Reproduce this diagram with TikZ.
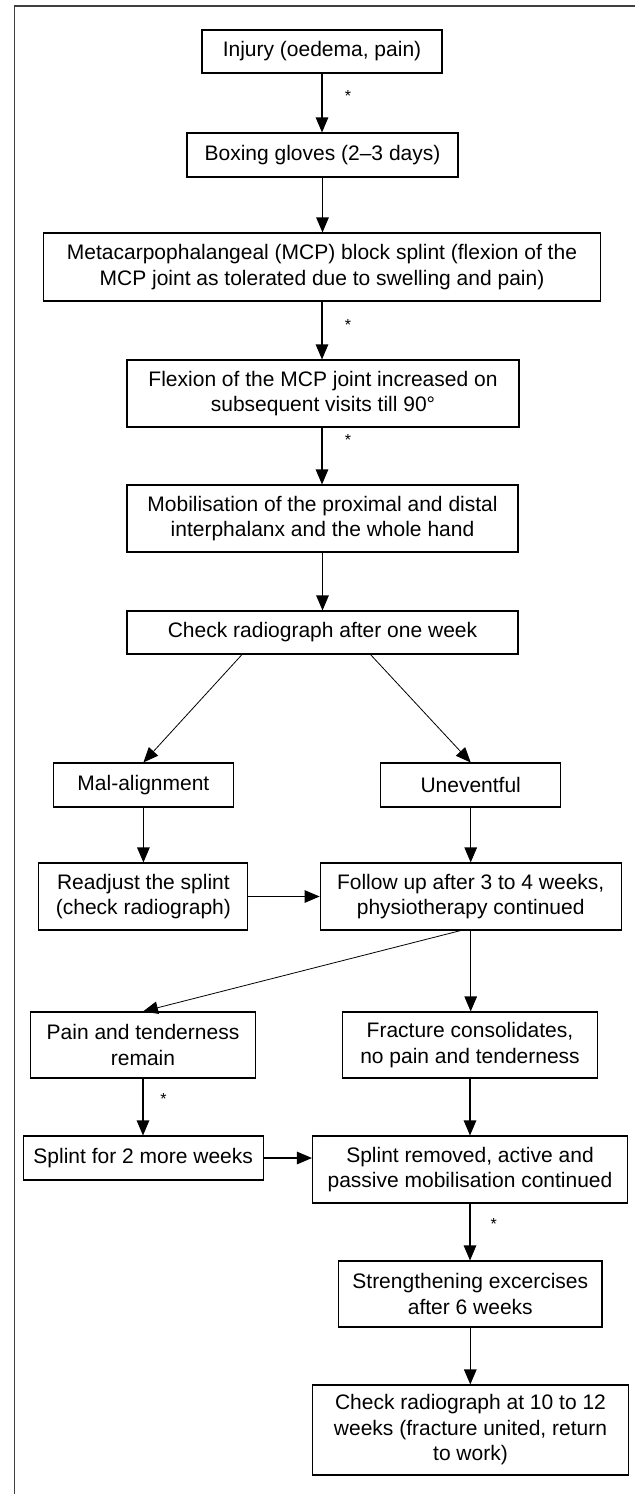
\documentclass[tikz,border=0pt]{standalone}
\usepackage{fontspec}
\setmainfont{Liberation Sans}
\usetikzlibrary{arrows.meta}
\begin{document}
\begin{tikzpicture}[x=1pt,y=-1pt,
  flowbox/.style={draw, line width=1.1pt, align=center, inner sep=0pt, font=\fontsize{21}{25.5}\selectfont},
  arr/.style={line width=1.1pt, -{Triangle[length=15pt,width=12.5pt]}},
  darr/.style={line width=0.8pt, -{Triangle[length=15pt,width=12.5pt]}},
  starlbl/.style={font=\fontsize{16}{16}\selectfont, inner sep=0pt},
  frameline/.style={line width=1.3pt, draw=black!75}]
\useasboundingbox (0,0) rectangle (635,1494);
\draw[frameline] (14.5,1494) -- (14.5,6) -- (635,6);

\node[flowbox, minimum width=240pt, minimum height=43pt] (inj) at (322,51.5) {Injury (oedema, pain)};
\node[flowbox, minimum width=271pt, minimum height=44pt] (glv) at (322.5,155) {Boxing gloves (2–3 days)};
\node[flowbox, minimum width=557pt, minimum height=68pt] (mcp) at (322,267) {Metacarpophalangeal (MCP) block splint (flexion of the\\MCP joint as tolerated due to swelling and pain)};
\node[flowbox, minimum width=392pt, minimum height=67pt] (flx) at (323,393.5) {Flexion of the MCP joint increased on\\subsequent visits till 90°};
\node[flowbox, minimum width=391pt, minimum height=67pt] (mob) at (322.5,518.5) {Mobilisation of the proximal and distal\\interphalanx and the whole hand};
\node[flowbox, minimum width=391pt, minimum height=43pt] (chk) at (322.5,632.5) {Check radiograph after one week};
\node[flowbox, minimum width=180pt, minimum height=44pt] (mal) at (143.4,785) {Mal-alignment};
\node[flowbox, minimum width=180pt, minimum height=44pt] (unev) at (470.7,785) {Uneventful};
\node[flowbox, minimum width=209pt, minimum height=67pt] (readj) at (143.4,896.5) {Readjust the splint\\(check radiograph)};
\node[flowbox, minimum width=301pt, minimum height=67pt] (fol) at (470.7,896.5) {Follow up after 3 to 4 weeks,\\physiotherapy continued};
\node[flowbox, minimum width=225.5pt, minimum height=66pt] (pain) at (143,1045) {Pain and tenderness\\remain};
\node[flowbox, minimum width=254.6pt, minimum height=66pt] (frac) at (470,1045) {Fracture consolidates,\\no pain and tenderness};
\node[flowbox, minimum width=240pt, minimum height=44pt] (spl) at (143.2,1158) {Splint for 2 more weeks};
\node[flowbox, minimum width=315pt, minimum height=67pt] (rem) at (470,1169.5) {Splint removed, active and\\passive mobilisation continued};
\node[flowbox, minimum width=263.4pt, minimum height=66pt] (str) at (470.3,1294) {Strengthening excercises\\after 6 weeks};
\node[flowbox, minimum width=316pt, minimum height=90pt] (fin) at (470.5,1430) {Check radiograph at 10 to 12\\weeks (fracture united, return\\to work)};

\draw[arr] (inj.south) -- (inj.south |- glv.north);
\draw[arr] (glv.south) -- (glv.south |- mcp.north);
\draw[arr] (mcp.south) -- (mcp.south |- flx.north);
\draw[arr] (mcp.south |- flx.south) -- (mcp.south |- mob.north);
\draw[arr] (mob.south) -- (mob.south |- chk.north);
\draw[darr] ([xshift=-80.5pt]chk.south) -- (mal.north);
\draw[darr] ([xshift=48pt]chk.south) -- (unev.north);
\draw[arr] (mal.south) -- (mal.south |- readj.north);
\draw[arr] (unev.south) -- (unev.south |- fol.north);
\draw[arr] (readj.east) -- (fol.west);
\draw[darr] ([xshift=-10pt]fol.south) -- (pain.north);
\draw[arr] (fol.south) -- (fol.south |- frac.north);
\draw[arr] (pain.south) -- (pain.south |- spl.north);
\draw[arr] (frac.south) -- (frac.south |- rem.north);
\draw[arr] (spl.east) -- (spl.east -| rem.west);
\draw[arr] (rem.south) -- (rem.south |- str.north);
\draw[arr] (str.south) -- (str.south |- fin.north);

\node[starlbl] (st1) at (348,96) {*};
\node[starlbl] (st2) at (348,325) {*};
\node[starlbl] (st3) at (348,440) {*};
\node[starlbl] (st4) at (163.6,1098.5) {*};
\node[starlbl] (st5) at (493.7,1223.5) {*};
\end{tikzpicture}
\end{document}
